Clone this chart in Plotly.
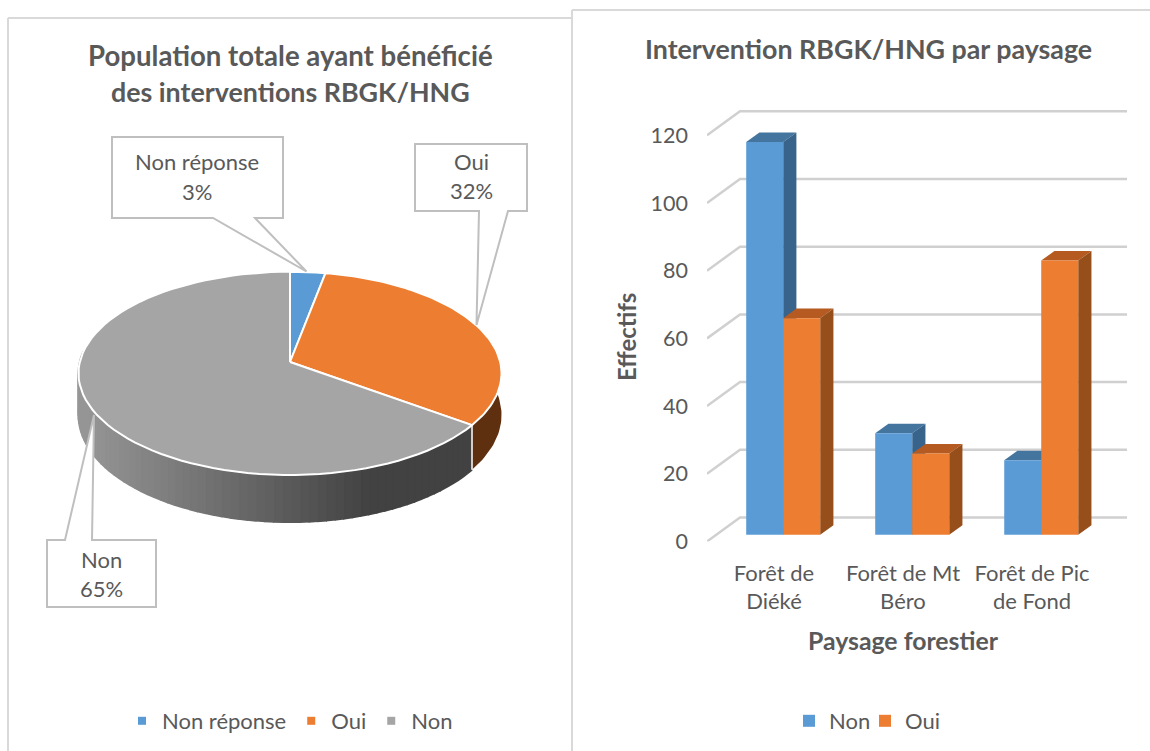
import math
import plotly.graph_objects as go

W, H = 1150, 751
FONT = "Lato"
TXT = "#595959"

# ---- data ----
pie_labels = ["Non réponse", "Oui", "Non"]
pie_values = [3, 32, 65]
pie_colors = ["#5B9BD5", "#ED7D31", "#A5A5A5"]

bar_categories = ["Forêt de<br>Diéké", "Forêt de Mt<br>Béro", "Forêt de Pic<br>de Fond"]
bar_non = [116, 30, 22]
bar_oui = [64, 24, 81]
y_ticks = [0, 20, 40, 60, 80, 100, 120]

fig = go.Figure()

# ---- 3D pie geometry (perspective projection of a circle, in panel pixels) ----
CX, CY = 290, 362
K, A, E = 0.1117, 100.4, 210.2


def pie_xy(theta_deg, drop=False):
    t = math.radians(theta_deg)
    u, v = math.sin(t), math.cos(t)
    d = 1 + K * v
    x = CX + E * u / d
    y = CY - A * v / d
    if drop:
        y += 41 - 6 * v
    return x, y


def arc(a, b, n, drop=False):
    pts = [pie_xy(a + (b - a) * i / n, drop) for i in range(n + 1)]
    return [p[0] for p in pts], [p[1] for p in pts]


def add_poly(xs, ys, color, xa="x", ya="y", lw=0, lc=None):
    fig.add_trace(go.Scatter(x=xs, y=ys, mode="lines", fill="toself", fillcolor=color,
                             line=dict(color=lc or color, width=lw), xaxis=xa, yaxis=ya,
                             hoverinfo="skip", showlegend=False))


bounds = [0]
for v in pie_values:
    bounds.append(bounds[-1] + v * 3.6)

# side wall: orange part
x1, y1 = arc(84, bounds[2], 30)
x2, y2 = arc(84, bounds[2], 30, True)
add_poly(x1 + x2[::-1], y1 + y2[::-1], "#5F3010")

# side wall: grey part, shaded strip by strip
STRIPS = 70
for i in range(STRIPS):
    a = bounds[2] + (276 - bounds[2]) * i / STRIPS
    b = bounds[2] + (276 - bounds[2]) * (i + 1) / STRIPS
    x1, y1 = arc(a, b, 2)
    x2, y2 = arc(a, b, 2, True)
    mx = sum(x1) / len(x1)
    g = int(round(max(66, min(150, 150 - (mx - 85) * (84 / 285)))))
    add_poly(x1 + x2[::-1], y1 + y2[::-1], f"rgb({g},{g},{g})", lw=2)

# seam between the two walls
sx0, sy0 = pie_xy(bounds[2])
sx1, sy1 = pie_xy(bounds[2], True)
fig.add_trace(go.Scatter(x=[sx0, sx1], y=[sy0, sy1], mode="lines", line=dict(color="white", width=1.5),
                         hoverinfo="skip", showlegend=False))

# top faces
for i in range(3):
    xs, ys = arc(bounds[i], bounds[i + 1], 80)
    add_poly([CX] + xs + [CX], [CY] + ys + [CY], pie_colors[i], lw=2, lc="white")

# legend of the pie
for name, col in zip(pie_labels, pie_colors):
    fig.add_trace(go.Scatter(x=[None], y=[None], mode="markers", name=name, legend="legend",
                             marker=dict(symbol="square", size=8, color=col)))

# ---- 3D bars: every face comes from the values through the bar axes ----
PX_PER_CAT = 129.0
PX_PER_UNIT = 3.385
DEPTH_X = 33 / PX_PER_CAT
DEPTH_Y = 24 / PX_PER_UNIT
D0, D1 = 0.28, 0.68
BAR_W = 37 / PX_PER_CAT
LEFT, RIGHT = -0.519, 2.481
BASE = D0 * DEPTH_Y
SHIFT = D0 * DEPTH_X


def proj(x, val, d):
    return x + d * DEPTH_X, val + d * DEPTH_Y


for t in y_ticks:
    x0, y0 = proj(LEFT, t, 0)
    x1_, y1_ = proj(LEFT, t, 1)
    x2_, y2_ = proj(RIGHT, t, 1)
    fig.add_trace(go.Scatter(x=[x0, x1_, x2_], y=[y0, y1_, y2_], mode="lines", xaxis="x2", yaxis="y2",
                             line=dict(color="#D0D0D0", width=2.5), hoverinfo="skip", showlegend=False))


def add_depth_faces(i, val, left, top_col, side_col):
    a, b = left, left + BAR_W
    pts = [proj(a, val, D0), proj(b, val, D0), proj(b, val, D1), proj(a, val, D1), proj(a, val, D0)]
    add_poly([p[0] for p in pts], [p[1] for p in pts], top_col, "x2", "y2")
    pts = [proj(b, 0, D0), proj(b, val, D0), proj(b, val, D1), proj(b, 0, D1), proj(b, 0, D0)]
    add_poly([p[0] for p in pts], [p[1] for p in pts], side_col, "x2", "y2")


for i, val in enumerate(bar_non):
    add_depth_faces(i, val, i - BAR_W, "#44759F", "#38638A")
for i, val in enumerate(bar_oui):
    add_depth_faces(i, val, i, "#B55A20", "#964E1B")

cats = list(range(len(bar_categories)))
fig.add_trace(go.Bar(x=[c + SHIFT for c in cats], y=bar_non, base=BASE, width=BAR_W, offset=-BAR_W,
                     marker=dict(color="#5B9BD5", line=dict(width=0)), name="Non",
                     xaxis="x3", yaxis="y3", legend="legend2"))
fig.add_trace(go.Bar(x=[c + SHIFT for c in cats], y=bar_oui, base=BASE, width=BAR_W, offset=0,
                     marker=dict(color="#ED7D31", line=dict(width=0)), name="Oui",
                     xaxis="x3", yaxis="y3", legend="legend2"))

# ---- axes ----
BX0, BX1, BY0, BY1 = 707, 1132, 541.5, 100
xr = [LEFT, (BX1 - 774) / PX_PER_CAT]
yr = [0, (BY0 - BY1) / PX_PER_UNIT]
xdom = [BX0 / W, BX1 / W]
ydom = [(H - BY0) / H, (H - BY1) / H]

layout = dict(
    width=W, height=H, margin=dict(l=0, r=0, t=0, b=0, autoexpand=False), autosize=False,
    paper_bgcolor="white", plot_bgcolor="rgba(0,0,0,0)", barmode="overlay",
    font=dict(family=FONT, color=TXT),
    xaxis=dict(domain=[0, 572 / W], range=[0, 572], visible=False),
    yaxis=dict(domain=[0, 1], range=[H, 0], visible=False),
    xaxis2=dict(domain=xdom, range=xr, anchor="y2", tickmode="array", tickvals=cats, ticktext=bar_categories,
                showgrid=False, zeroline=False, showline=False, ticks="",
                tickfont=dict(family=FONT, size=22, color=TXT), tickangle=0, ticklabelstandoff=16),
    yaxis2=dict(domain=ydom, range=yr, anchor="x2", tickmode="array", tickvals=y_ticks,
                showgrid=False, zeroline=False, showline=False, ticks="",
                tickfont=dict(family=FONT, size=21.5, color=TXT), ticklabelstandoff=18),
    xaxis3=dict(domain=xdom, range=xr, overlaying="x2", anchor="y3", visible=False),
    yaxis3=dict(domain=ydom, range=yr, overlaying="y2", anchor="x3", visible=False),
    legend=dict(orientation="h", x=122 / W, xanchor="left", y=(H - 721) / H, yanchor="middle",
                font=dict(family=FONT, size=22, color=TXT), bgcolor="rgba(0,0,0,0)"),
    legend2=dict(orientation="h", x=789 / W, xanchor="left", y=(H - 721) / H, yanchor="middle",
                 entrywidth=31, entrywidthmode="pixels",
                 font=dict(family=FONT, size=22, color=TXT), bgcolor="rgba(0,0,0,0)"),
)

# panel frames
FRAME = dict(type="line", xref="paper", yref="paper", line=dict(color="#D9D9D9", width=2), layer="below")
shapes = [
    dict(FRAME, x0=8 / W, x1=572 / W, y0=(H - 18) / H, y1=(H - 18) / H),
    dict(FRAME, x0=8 / W, x1=8 / W, y0=0, y1=(H - 18) / H),
    dict(FRAME, x0=572 / W, x1=572 / W, y0=0, y1=(H - 10) / H),
    dict(FRAME, x0=572 / W, x1=1, y0=(H - 10) / H, y1=(H - 10) / H),
]


# callouts of the pie
def callout(x0, x1, y0, y1, side, b0, b1, tip):
    if side == "bottom":
        p = f"M{x0},{y0}H{x1}V{y1}H{b1}L{tip[0]},{tip[1]}L{b0},{y1}H{x0}Z"
    else:
        p = f"M{x0},{y0}H{b0}L{tip[0]},{tip[1]}L{b1},{y0}H{x1}V{y1}H{x0}Z"
    return dict(type="path", path=p, xref="x", yref="y", fillcolor="white",
                line=dict(color="#BFBFBF", width=2), layer="above")


shapes += [
    callout(112, 283, 137, 218, "bottom", 213, 255, (306.5, 271.5)),
    callout(415, 527, 144, 211, "bottom", 479, 508, (476.5, 325)),
    callout(47, 156, 540, 607, "top", 65, 92, (94, 415)),
]

annots = []


def note(text, px, py, size=22, bold=False, angle=0):
    annots.append(dict(text=f"<b>{text}</b>" if bold else text, x=px / W, y=(H - py) / H, xref="paper", yref="paper",
                       showarrow=False, xanchor="center", yanchor="middle", textangle=angle,
                       font=dict(family=FONT, size=size, color=TXT)))


note("Population totale ayant bénéficié", 290, 56, 27.6, True)
note("des interventions RBGK/HNG", 290, 92, 26.8, True)
note("Intervention RBGK/HNG par paysage", 868, 49, 26.8, True)
note("Effectifs", 626, 337, 24, True, -90)
note("Paysage forestier", 903, 640, 24.8, True)
note(pie_labels[0], 197, 162)
note(f"{pie_values[0]}%", 197, 192)
note(pie_labels[1], 471, 162)
note(f"{pie_values[1]}%", 471, 191)
note(pie_labels[2], 101, 560)
note(f"{pie_values[2]}%", 101, 588)

layout["shapes"] = shapes
layout["annotations"] = annots
fig.update_layout(**layout)
fig.write_html("out.html", config={"displayModeBar": False}, post_script="document.body.style.margin='0';")
